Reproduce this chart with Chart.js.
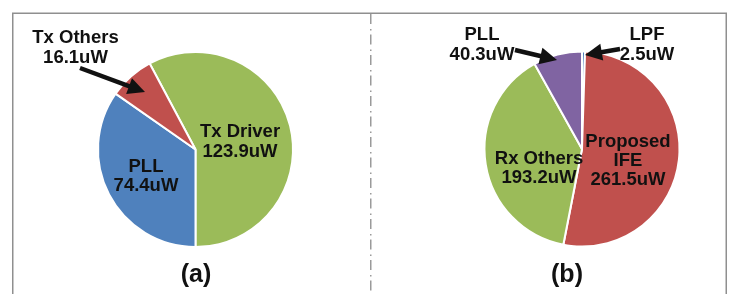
<!DOCTYPE html>
<html>
<head>
<meta charset="utf-8">
<script src="https://cdn.jsdelivr.net/npm/chart.js@4.4.6/dist/chart.umd.min.js"></script>
<style>
  html, body { margin: 0; padding: 0; background: #fff; }
  #wrap { position: relative; width: 744px; height: 294px; overflow: hidden; }
  canvas { position: absolute; top: 0; }
</style>
</head>
<body>
<div id="wrap">
  <canvas id="frame" width="744" height="294" style="left:0"></canvas>
  <canvas id="pieA" width="372" height="294" style="left:0"></canvas>
  <canvas id="pieB" width="372" height="294" style="left:372px"></canvas>
</div>
<script>
/* (a) transmitter power breakdown */
const namesA = ['Tx Driver', 'PLL', 'Tx Others'];
const powerA = [123.9, 74.4, 16.1];

/* (b) receiver power breakdown */
const namesB = ['LPF', 'Proposed IFE', 'Rx Others', 'PLL'];
const powerB = [2.5, 261.5, 193.2, 40.3];

/* office-style palette */
const colorsA = ['#9bbb59', '#4f81bd', '#c0504d'];
const colorsB = ['#4f81bd', '#c0504d', '#9bbb59', '#8064a2'];

const FONT = '"Liberation Sans", Arial, sans-serif';
const INK = '#111111';

/* frame + dash-dot divider */
const fctx = document.getElementById('frame').getContext('2d');
fctx.strokeStyle = '#8f8f8f';
fctx.lineWidth = 1.5;
fctx.beginPath();
fctx.moveTo(12.75, 300);
fctx.lineTo(12.75, 13.25);
fctx.lineTo(726.25, 13.25);
fctx.lineTo(726.25, 300);
fctx.stroke();
fctx.strokeStyle = '#9a9a9a';
fctx.setLineDash([10, 5, 1.5, 4]);
fctx.beginPath();
fctx.moveTo(370.75, 14);
fctx.lineTo(370.75, 294);
fctx.stroke();

function drawArrow(ctx, x1, y1, x2, y2) {
  const ang = Math.atan2(y2 - y1, x2 - x1);
  const len = 17, half = 8.5;
  const bx = x2 - len * Math.cos(ang), by = y2 - len * Math.sin(ang);
  ctx.save();
  ctx.strokeStyle = INK;
  ctx.fillStyle = INK;
  ctx.lineWidth = 4.5;
  ctx.beginPath();
  ctx.moveTo(x1, y1);
  ctx.lineTo(bx + 2 * Math.cos(ang), by + 2 * Math.sin(ang));
  ctx.stroke();
  ctx.beginPath();
  ctx.moveTo(x2, y2);
  ctx.lineTo(bx + half * Math.sin(ang), by - half * Math.cos(ang));
  ctx.lineTo(bx - half * Math.sin(ang), by + half * Math.cos(ang));
  ctx.closePath();
  ctx.fill();
  ctx.restore();
}

/* labels are placed relative to the pie centre */
const calloutPlugin = {
  id: 'callouts',
  afterDatasetsDraw(chart, args, opts) {
    const ctx = chart.ctx;
    const arc = chart.getDatasetMeta(0).data[0];
    const cx = arc.x, cy = arc.y;
    ctx.save();
    ctx.fillStyle = INK;
    ctx.textAlign = 'center';
    ctx.textBaseline = 'middle';
    ctx.font = 'bold 18.5px ' + FONT;
    opts.labels.forEach(l => {
      l.lines.forEach((t, i) => ctx.fillText(t, cx + l.dx, cy + l.dy + i * l.lh));
    });
    ctx.font = 'bold 25px ' + FONT;
    ctx.fillText(opts.caption, cx + opts.capDx, cy + 126);
    ctx.restore();
    opts.arrows.forEach(a => drawArrow(ctx, cx + a[0], cy + a[1], cx + a[2], cy + a[3]));
  }
};

const fmt = v => v.toFixed(1) + 'uW';
const sumA = powerA.reduce((s, v) => s + v, 0);

new Chart(document.getElementById('pieA'), {
  type: 'pie',
  data: {
    labels: namesA,
    datasets: [{
      data: powerA,
      backgroundColor: colorsA,
      borderColor: '#ffffff',
      borderWidth: 2
    }]
  },
  options: {
    responsive: false,
    animation: false,
    rotation: 180 - powerA[0] / sumA * 360,
    layout: { padding: { left: 97, right: 78, top: 51, bottom: 46 } },
    plugins: {
      legend: { display: false },
      tooltip: { enabled: false },
      callouts: {
        caption: '(a)',
        capDx: 0.5,
        labels: [
          { lines: [namesA[2], fmt(powerA[2])], dx: -120, dy: -111.5, lh: 20 },
          { lines: [namesA[0], fmt(powerA[0])], dx: 44.5, dy: -17.5, lh: 20 },
          { lines: [namesA[1], fmt(powerA[1])], dx: -49.5, dy: 17.5, lh: 18.5 }
        ],
        arrows: [[-115.5, -81.5, -50.5, -57.5]]
      }
    }
  },
  plugins: [calloutPlugin]
});

new Chart(document.getElementById('pieB'), {
  type: 'pie',
  data: {
    labels: namesB,
    datasets: [{
      data: powerB,
      backgroundColor: colorsB,
      borderColor: '#ffffff',
      borderWidth: 2
    }]
  },
  options: {
    responsive: false,
    animation: false,
    rotation: 0,
    layout: { padding: { left: 111.5, right: 63.5, top: 50.5, bottom: 46.5 } },
    plugins: {
      legend: { display: false },
      tooltip: { enabled: false },
      callouts: {
        caption: '(b)',
        capDx: -15,
        labels: [
          { lines: [namesB[3], fmt(powerB[3])], dx: -100, dy: -114, lh: 20 },
          { lines: [namesB[0], fmt(powerB[0])], dx: 65, dy: -114, lh: 20 },
          { lines: [namesB[2], fmt(powerB[2])], dx: -43, dy: 10, lh: 19 },
          { lines: ['Proposed', 'IFE', fmt(powerB[1])], dx: 46, dy: -7, lh: 19 }
        ],
        arrows: [[-67, -99, -25, -89], [38, -100, 3, -94]]
      }
    }
  },
  plugins: [calloutPlugin]
});
</script>
</body>
</html>
